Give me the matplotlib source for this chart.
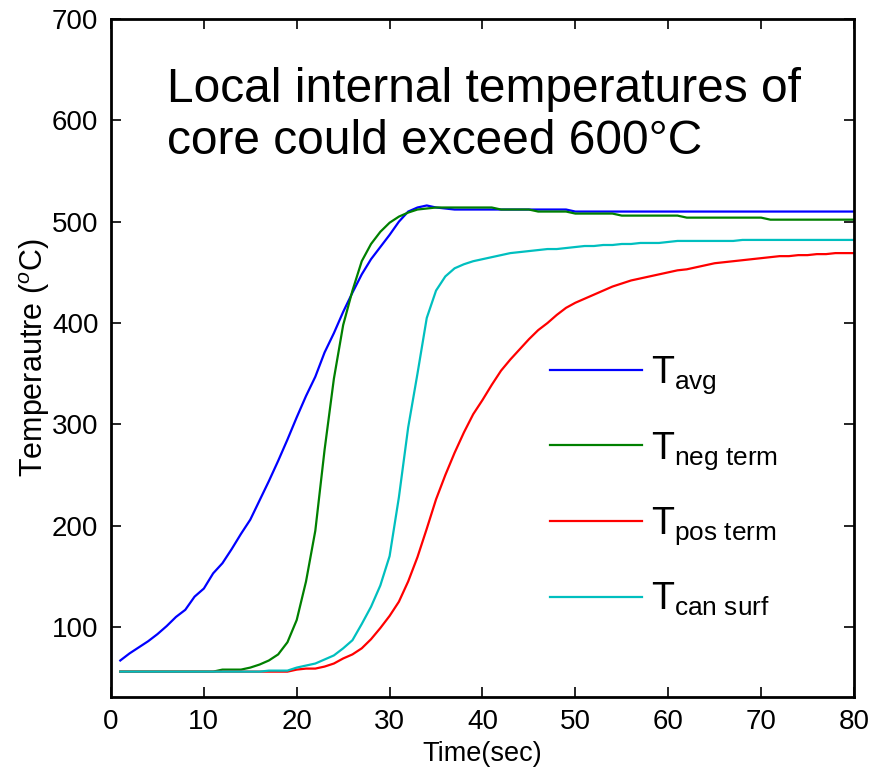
import matplotlib.pyplot as plt
import numpy as np

plt.rcParams['font.family'] = ['Liberation Sans', 'DejaVu Sans']
plt.rcParams['mathtext.fontset'] = 'custom'
plt.rcParams['mathtext.rm'] = 'Liberation Sans'
plt.rcParams['mathtext.it'] = 'Liberation Sans:italic'

# time in seconds, one sample per second
t = np.arange(1, 81)

T_avg = [67, 74, 80, 86, 93, 101, 110, 117, 130, 138,
         153, 163, 177, 192, 206, 225, 244, 264, 285, 307,
         328, 347, 371, 390, 411, 430, 448, 463, 475, 487,
         500, 510, 514, 516, 514, 513, 512, 512, 512, 512,
         512, 512, 512, 512, 512, 512, 512, 512, 512, 510,
         510, 510, 510, 510, 510, 510, 510, 510, 510, 510,
         510, 510, 510, 510, 510, 510, 510, 510, 510, 510,
         510, 510, 510, 510, 510, 510, 510, 510, 510, 510]

T_neg = [56, 56, 56, 56, 56, 56, 56, 56, 56, 56,
         56, 58, 58, 58, 60, 63, 67, 73, 85, 107,
         145, 195, 275, 345, 398, 432, 461, 478, 490, 499,
         505, 509, 512, 513, 514, 514, 514, 514, 514, 514,
         514, 512, 512, 512, 512, 510, 510, 510, 510, 508,
         508, 508, 508, 508, 506, 506, 506, 506, 506, 506,
         506, 504, 504, 504, 504, 504, 504, 504, 504, 504,
         502, 502, 502, 502, 502, 502, 502, 502, 502, 502]

T_pos = [56, 56, 56, 56, 56, 56, 56, 56, 56, 56,
         56, 56, 56, 56, 56, 56, 56, 56, 56, 58,
         59, 59, 61, 64, 69, 73, 79, 88, 99, 111,
         125, 145, 169, 197, 226, 250, 272, 292, 310, 324,
         339, 353, 364, 374, 384, 393, 400, 408, 415, 420,
         424, 428, 432, 436, 439, 442, 444, 446, 448, 450,
         452, 453, 455, 457, 459, 460, 461, 462, 463, 464,
         465, 466, 466, 467, 467, 468, 468, 469, 469, 469]

T_can = [56, 56, 56, 56, 56, 56, 56, 56, 56, 56,
         56, 56, 56, 56, 56, 56, 57, 57, 57, 60,
         62, 64, 68, 72, 79, 87, 103, 120, 141, 170,
         228, 297, 350, 405, 432, 446, 454, 458, 461, 463,
         465, 467, 469, 470, 471, 472, 473, 473, 474, 475,
         476, 476, 477, 477, 478, 478, 479, 479, 479, 480,
         481, 481, 481, 481, 481, 481, 481, 482, 482, 482,
         482, 482, 482, 482, 482, 482, 482, 482, 482, 482]

fig = plt.figure(figsize=(8.83, 7.79), dpi=100)
ax = fig.add_axes([0.1257, 0.1053, 0.8414, 0.8703])

ax.plot(t, T_avg, color=(0, 0, 1), lw=1.6, label=r'$\mathregular{T_{avg}}$')
ax.plot(t, T_neg, color=(0, 0.5, 0), lw=1.6, label=r'$\mathregular{T_{neg\ term}}$')
ax.plot(t, T_pos, color=(1, 0, 0), lw=1.6, label=r'$\mathregular{T_{pos\ term}}$')
ax.plot(t, T_can, color=(0, 0.75, 0.75), lw=1.6, label=r'$\mathregular{T_{can\ surf}}$')

ax.set_xlim(0, 80)
ax.set_ylim(31, 700)
ax.set_xticks(np.arange(0, 81, 10))
ax.set_yticks(np.arange(100, 701, 100))
ax.tick_params(direction='in', length=7, width=1.2, top=True, right=True,
               labelsize=20, pad=9)
for s in ax.spines.values():
    s.set_linewidth(2)

ax.set_xlabel('Time(sec)', fontsize=19.5, labelpad=4)
ax.set_ylabel(r'Temperautre ($^o$C)', fontsize=22, labelpad=0)

ax.text(0.0754, 0.929, 'Local internal temperatures of\ncore could exceed 600\u00b0C',
        transform=ax.transAxes, fontsize=34.5, va='top', ha='left', linespacing=1.2)

ax.legend(loc='upper left', bbox_to_anchor=(0.591, 0.505), frameon=False,
          fontsize=27, handlelength=2.45, handletextpad=0.25, labelspacing=0.9,
          borderpad=0, borderaxespad=0)

fig.savefig('out.png', dpi=100)
